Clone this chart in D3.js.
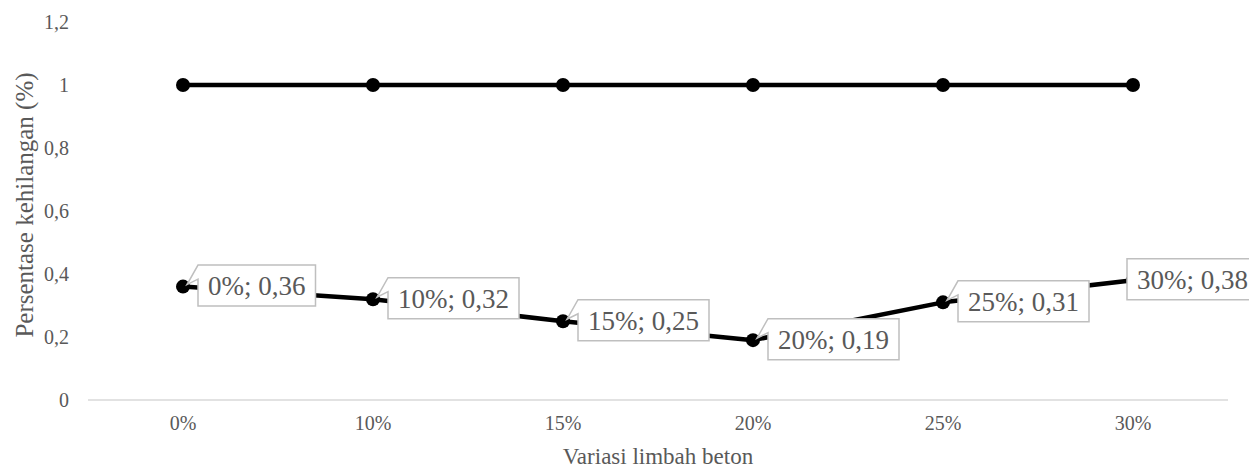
<!DOCTYPE html>
<html>
<head>
<meta charset="utf-8">
<script src="https://cdn.jsdelivr.net/npm/d3@7"></script>
<style>
  html, body { margin: 0; padding: 0; background: #fff; }
  svg { display: block; font-family: "Liberation Serif", "Times New Roman", serif; }
</style>
</head>
<body>
<svg id="chart" width="1249" height="472"></svg>
<script>
(function () {
const categories = ["0%", "10%", "15%", "20%", "25%", "30%"];
const seriesTop = [1, 1, 1, 1, 1, 1];
const seriesLoss = [0.36, 0.32, 0.25, 0.19, 0.31, 0.38];
const yTicks = [0, 0.2, 0.4, 0.6, 0.8, 1, 1.2];
const xTitle = "Variasi limbah beton";
const yTitle = "Persentase kehilangan (%)";

const W = 1249, H = 472;
const svg = d3.select("#chart");
const mLeft = 88, mRight = 1228, mTop = 22, mBottom = 400;

const x = d3.scaleBand().domain(categories).range([mLeft, mRight]).padding(0);
const y = d3.scaleLinear().domain([0, 1.2]).range([mBottom, mTop]);
const cx = c => x(c) + x.bandwidth() / 2;
const fmt = v => String(+v.toFixed(2)).replace(".", ",");

// x axis line
svg.append("line")
  .attr("x1", mLeft).attr("x2", mRight)
  .attr("y1", y(0)).attr("y2", y(0))
  .attr("stroke", "#d9d9d9").attr("stroke-width", 1.5);

// y axis ticks
const yAxis = d3.axisLeft(y).tickValues(yTicks).tickFormat(fmt).tickSize(0).tickPadding(19);
const gy = svg.append("g").attr("transform", `translate(${mLeft},0)`).call(yAxis);
gy.select(".domain").remove();
gy.selectAll("text").attr("fill", "#595959").attr("font-size", 20)
  .attr("font-family", "Liberation Serif, Times New Roman, serif");

// x axis ticks
const xAxis = d3.axisBottom(x).tickSize(0).tickPadding(16);
const gx = svg.append("g").attr("transform", `translate(0,${mBottom})`).call(xAxis);
gx.select(".domain").remove();
gx.selectAll("text").attr("fill", "#595959").attr("font-size", 20)
  .attr("font-family", "Liberation Serif, Times New Roman, serif");

// axis titles
svg.append("text").attr("x", 658).attr("y", 464).attr("text-anchor", "middle")
  .attr("fill", "#595959").attr("font-size", 23).text(xTitle);
svg.append("text").attr("transform", `translate(33,205) rotate(-90)`).attr("text-anchor", "middle")
  .attr("fill", "#595959").attr("font-size", 25).text(yTitle);

// lines
const line = d3.line().x((d, i) => cx(categories[i])).y(d => y(d));
[seriesTop, seriesLoss].forEach(s => {
  svg.append("path").datum(s).attr("d", line)
    .attr("fill", "none").attr("stroke", "#000").attr("stroke-width", 4.5)
    .attr("stroke-linejoin", "round");
  svg.append("g").selectAll("circle").data(s).join("circle")
    .attr("cx", (d, i) => cx(categories[i])).attr("cy", d => y(d))
    .attr("r", 7).attr("fill", "#000");
});

// data labels (callouts)
const lg = svg.append("g");
seriesLoss.forEach((v, i) => {
  const px = cx(categories[i]), py = y(v);
  const g = lg.append("g");
  const path = g.append("path");
  const t = g.append("text").attr("font-size", 27).attr("fill", "#595959")
    .text(`${categories[i]}; ${fmt(v)}`);
  const tw = t.node().getComputedTextLength();
  const w = tw + 20, h = 41;
  const L = Math.min(px + 15, W + 9 - w);
  const T = py - h / 2 - 1, R = L + w, B = T + h;
  let d;
  if (L > px + 5) {
    d = `M${L},${T}H${R}V${B}H${L}V${T + 14}L${px + 4},${py - 2}L${L},${T}Z`;
  } else {
    d = `M${L},${T}H${R}V${B}H${L}Z`;
  }
  path.attr("d", d).attr("fill", "#fff").attr("stroke", "#bfbfbf").attr("stroke-width", 1.5);
  t.attr("x", L + 10).attr("y", T + h / 2).attr("dy", "0.35em");
});
})();
</script>
</body>
</html>
